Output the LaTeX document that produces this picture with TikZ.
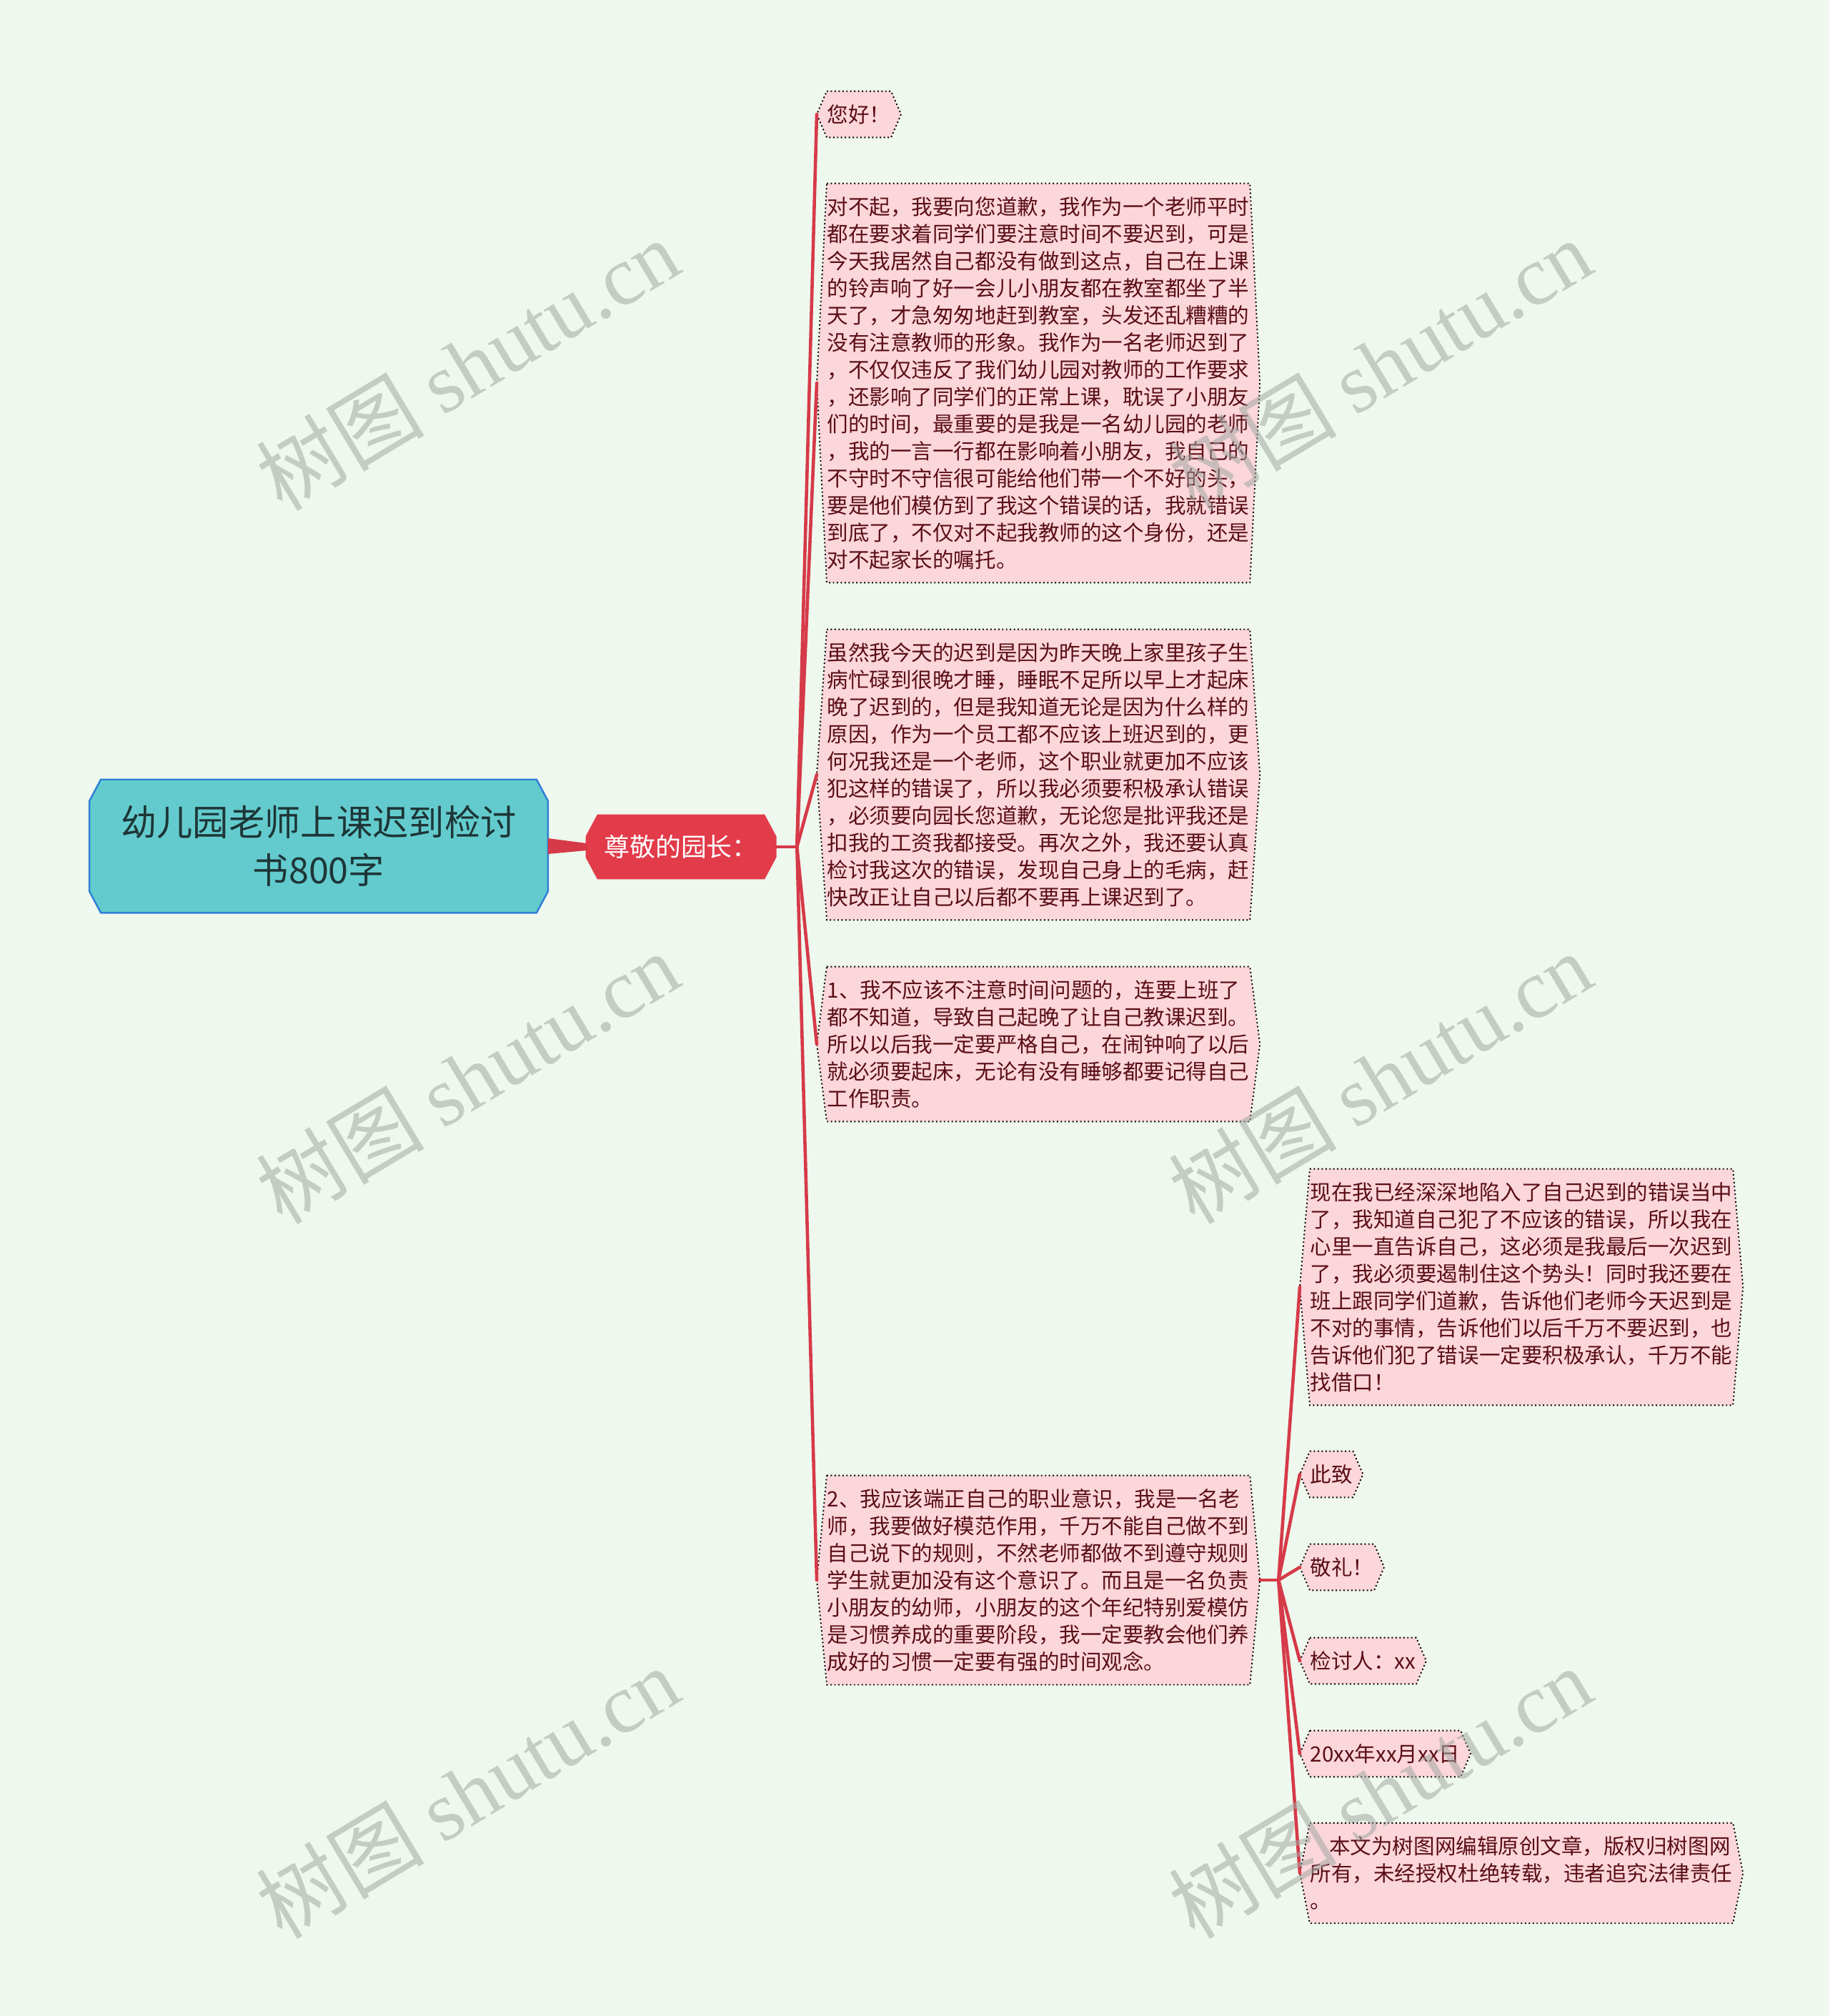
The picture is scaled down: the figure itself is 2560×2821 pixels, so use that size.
\documentclass[tikz,border=0pt]{standalone}
\usepackage{fontspec}
\setmainfont{Noto Sans CJK SC}
\newfontfamily\wmfont{Liberation Serif}
\usetikzlibrary{calc,backgrounds}
\definecolor{bgmint}{HTML}{EFF8EE}
\definecolor{rootfill}{HTML}{63CBCD}
\definecolor{rootline}{HTML}{2F7FD6}
\definecolor{roottext}{HTML}{1E3537}
\definecolor{hubred}{HTML}{E23B4A}
\definecolor{linkred}{HTML}{D63A48}
\definecolor{leaffill}{HTML}{FBD6DB}
\definecolor{leaftext}{HTML}{5A0E16}
\definecolor{wmgray}{HTML}{A3A8A3}
\tikzset{
  rootbox/.style={minimum width=6.4cm,minimum height=1.85cm,
    text=roottext,align=center,font=\fontsize{14.3pt}{19pt}\selectfont},
  hubbox/.style={minimum width=2.63cm,minimum height=0.87cm,
    text=white,font=\fontsize{10.2pt}{12pt}\selectfont},
  leaf/.style={anchor=west,inner xsep=0pt,inner ysep=0.18cm,align=left,text=leaftext,
    font=\fontsize{8.4pt}{10.8pt}\selectfont},
  leafedge/.style={fill=leaffill,draw=black,densely dotted,line width=0.55pt},
  link/.style={draw=linkred,line width=1.3pt,line cap=round},
  wm/.style={text=wmgray,opacity=0.55,rotate=31,font=\fontsize{33.5pt}{40pt}\selectfont}
}
\begin{document}
\begin{tikzpicture}[x=0.01cm,y=-0.01cm]
\useasboundingbox (0,0) rectangle (2560,2821);
\node[rootbox](root)at(446,1184){幼儿园老师上课迟到检讨\\书800字};
\node[hubbox](chief)at(953,1185){尊敬的园长：};
\node[leaf](hello)at(1157,160){您好！};
\node[leaf](b1)at(1157,536){对不起，我要向您道歉，我作为一个老师平时\\都在要求着同学们要注意时间不要迟到，可是\\今天我居然自己都没有做到这点，自己在上课\\的铃声响了好一会儿小朋友都在教室都坐了半\\天了，才急匆匆地赶到教室，头发还乱糟糟的\\没有注意教师的形象。我作为一名老师迟到了\\，不仅仅违反了我们幼儿园对教师的工作要求\\，还影响了同学们的正常上课，耽误了小朋友\\们的时间，最重要的是我是一名幼儿园的老师\\，我的一言一行都在影响着小朋友，我自己的\\不守时不守信很可能给他们带一个不好的头，\\要是他们模仿到了我这个错误的话，我就错误\\到底了，不仅对不起我教师的这个身份，还是\\对不起家长的嘱托。};
\node[leaf](b2)at(1157,1084){虽然我今天的迟到是因为昨天晚上家里孩子生\\病忙碌到很晚才睡，睡眠不足所以早上才起床\\晚了迟到的，但是我知道无论是因为什么样的\\原因，作为一个员工都不应该上班迟到的，更\\何况我还是一个老师，这个职业就更加不应该\\犯这样的错误了，所以我必须要积极承认错误\\，必须要向园长您道歉，无论您是批评我还是\\扣我的工资我都接受。再次之外，我还要认真\\检讨我这次的错误，发现自己身上的毛病，赶\\快改正让自己以后都不要再上课迟到了。};
\node[leaf](b3)at(1157,1461){1、我不应该不注意时间问题的，连要上班了\\都不知道，导致自己起晚了让自己教课迟到。\\所以以后我一定要严格自己，在闹钟响了以后\\就必须要起床，无论有没有睡够都要记得自己\\工作职责。};
\node[leaf](b4)at(1157,2211){2、我应该端正自己的职业意识，我是一名老\\师，我要做好模范作用，千万不能自己做不到\\自己说下的规则，不然老师都做不到遵守规则\\学生就更加没有这个意识了。而且是一名负责\\小朋友的幼师，小朋友的这个年纪特别爱模仿\\是习惯养成的重要阶段，我一定要教会他们养\\成好的习惯一定要有强的时间观念。};
\node[leaf](s1)at(1833,1801){现在我已经深深地陷入了自己迟到的错误当中\\了，我知道自己犯了不应该的错误，所以我在\\心里一直告诉自己，这必须是我最后一次迟到\\了，我必须要遏制住这个势头！同时我还要在\\班上跟同学们道歉，告诉他们老师今天迟到是\\不对的事情，告诉他们以后千万不要迟到，也\\告诉他们犯了错误一定要积极承认，千万不能\\找借口！};
\node[leaf](s2)at(1833,2063){此致};
\node[leaf](s3)at(1833,2193){敬礼！};
\node[leaf](s4)at(1833,2324){检讨人：xx};
\node[leaf](s5)at(1833,2454){20xx年xx月xx日};
\node[leaf](s6)at(1833,2621){\hspace*{0.9em}本文为树图网编辑原创文章，版权归树图网\\所有，未经授权杜绝转载，违者追究法律责任\\。};
\begin{scope}[on background layer]
\fill[bgmint] (0,0) rectangle (2560,2821);
\foreach \n/\f/\d in {root/rootfill/rootline,chief/hubred/hubred}
  \draw[fill=\f,draw=\d,line width=0.7pt] ($(\n.north west)+(16,0)$) -- ($(\n.north east)+(-16,0)$)
    -- ($(\n.north east)+(0,30)$) -- ($(\n.south east)+(0,-30)$) -- ($(\n.south east)+(-16,0)$)
    -- ($(\n.south west)+(16,0)$) -- ($(\n.south west)+(0,-30)$) -- ($(\n.north west)+(0,30)$) -- cycle;
\foreach \n in {hello,b1,b2,b3,b4,s1,s2,s3,s4,s5,s6}
  \draw[leafedge] (\n.north west) -- (\n.north east) -- ($(\n.east)+(14,0)$) -- (\n.south east)
    -- (\n.south west) -- ($(\n.west)+(-14,0)$) -- cycle;
\end{scope}
\fill[linkred] ($(root.east)+(0,-11)$) -- ($(chief.west)+(0,-5)$) -- ($(chief.west)+(0,5)$) -- ($(root.east)+(0,11)$) -- cycle;
\coordinate (hubA) at ($(chief.east)+(30,0)$);
\coordinate (hubB) at ($(b4.east)+(40,0)$);
\draw[link] (chief.east) -- (hubA);
\foreach \n in {hello,b1,b2,b3,b4}
  \draw[link] (hubA) -- ($(\n.west)+(-14,0)$);
\draw[link] ($(b4.east)+(14,0)$) -- (hubB);
\foreach \n in {s1,s2,s3,s4,s5,s6}
  \draw[link] (hubB) -- ($(\n.west)+(-14,0)$);
\foreach \x/\y/\k in {654/510/1,1931/510/2,654/1508/3,1931/1508/4,654/2508/5,1931/2508/6}
  \node[wm](wm\k)at(\x,\y){树图 {\wmfont shutu.cn}};
\end{tikzpicture}
\end{document}
